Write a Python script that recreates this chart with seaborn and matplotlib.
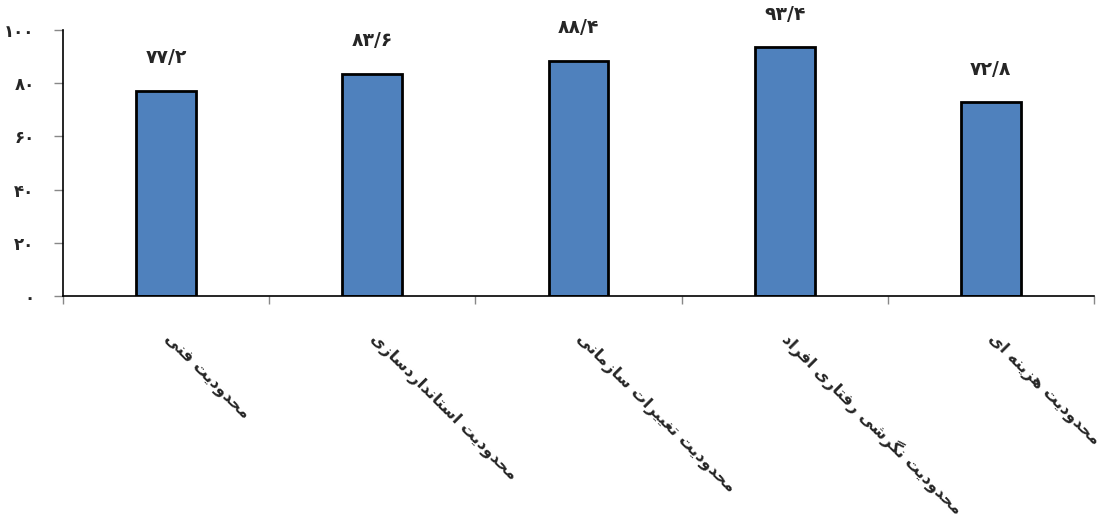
# bar chart of limitation percentages (Persian labels)
import matplotlib
matplotlib.use("Agg")
import matplotlib.pyplot as plt
import seaborn as sns
import pandas as pd

# ==========================================
# data
# ==========================================
categories = [
    "محدودیت فنی",
    "محدودیت استانداردسازی",
    "محدودیت تغییرات سازمانی",
    "محدودیت نگرشی رفتاری افراد",
    "محدودیت هزینه ای",
]
values = [77.2, 83.6, 88.4, 93.4, 72.8]
y_ticks = [0, 20, 40, 60, 80, 100]

# ==========================================
# persian helpers (matplotlib has no arabic shaping)
# ==========================================
FA_DIGITS = str.maketrans("0123456789.", "۰۱۲۳۴۵۶۷۸۹/")


def fa_num(v):
    return str(v).translate(FA_DIGITS)


# isolated, final, initial, medial
FORMS = {
    "ا": ("\uFE8D", "\uFE8E"),
    "ت": ("\uFE95", "\uFE96", "\uFE97", "\uFE98"),
    "ح": ("\uFEA1", "\uFEA2", "\uFEA3", "\uFEA4"),
    "د": ("\uFEA9", "\uFEAA"),
    "ر": ("\uFEAD", "\uFEAE"),
    "ز": ("\uFEAF", "\uFEB0"),
    "س": ("\uFEB1", "\uFEB2", "\uFEB3", "\uFEB4"),
    "ش": ("\uFEB5", "\uFEB6", "\uFEB7", "\uFEB8"),
    "غ": ("\uFECD", "\uFECE", "\uFECF", "\uFED0"),
    "ف": ("\uFED1", "\uFED2", "\uFED3", "\uFED4"),
    "م": ("\uFEE1", "\uFEE2", "\uFEE3", "\uFEE4"),
    "ن": ("\uFEE5", "\uFEE6", "\uFEE7", "\uFEE8"),
    "ه": ("\uFEE9", "\uFEEA", "\uFEEB", "\uFEEC"),
    "و": ("\uFEED", "\uFEEE"),
    "ی": ("\uFBFC", "\uFBFD", "\uFBFE", "\uFBFF"),
    "گ": ("\uFB92", "\uFB93", "\uFB94", "\uFB95"),
}


def shape(text):
    out = []
    for i, ch in enumerate(text):
        if ch not in FORMS:
            out.append(ch)
            continue
        f = FORMS[ch]
        prev = text[i - 1] if i > 0 else ""
        nxt = text[i + 1] if i + 1 < len(text) else ""
        join_prev = prev in FORMS and len(FORMS[prev]) == 4
        join_next = len(f) == 4 and nxt in FORMS
        if join_prev and join_next:
            out.append(f[3])
        elif join_prev:
            out.append(f[1])
        elif join_next:
            out.append(f[2])
        else:
            out.append(f[0])
    return "".join(out)[::-1]


# ==========================================
# plot
# ==========================================
sns.set_theme(style="white")
plt.rcParams["font.family"] = ["DejaVu Sans"]

df = pd.DataFrame({"cat": categories, "val": values})

fig, ax = plt.subplots(figsize=(11.12, 5.25), dpi=100)
fig.subplots_adjust(left=0.0567, right=0.9838, bottom=0.436, top=0.943)

sns.barplot(
    data=df, x="cat", y="val",
    color="#4F81BD", saturation=1,
    edgecolor="black", linewidth=2,
    width=0.29, ax=ax
)

ax.set_xlim(-0.5, 4.5)
ax.set_ylim(0, 100)
ax.set_xlabel("")
ax.set_ylabel("")

# y axis
ax.set_yticks(y_ticks)
ax.set_yticklabels([fa_num(t) for t in y_ticks], fontsize=12, fontweight="bold")
ax.tick_params(axis="y", length=6.5, width=1, color="#888888", pad=14, left=True)

# x axis: ticks at category borders, labels at centres
ax.set_xticks([i - 0.5 for i in range(len(categories) + 1)])
ax.set_xticklabels([""] * (len(categories) + 1))
ax.set_xticks(range(len(categories)), minor=True)
ax.set_xticklabels([shape(c) for c in categories], minor=True,
                   fontsize=11.8, fontweight="bold")
ax.tick_params(axis="x", which="major", length=6, width=1, color="#888888", bottom=True)
ax.tick_params(axis="x", which="minor", length=0, pad=29, bottom=True)
for lbl in ax.get_xticklabels(minor=True):
    lbl.set_rotation(-45)
    lbl.set_ha("left")
    lbl.set_va("center")
    lbl.set_rotation_mode("anchor")

for side in ["top", "right"]:
    ax.spines[side].set_visible(False)
for side in ["left", "bottom"]:
    ax.spines[side].set_color("black")
    ax.spines[side].set_linewidth(1.2)

ax.bar_label(ax.containers[0], labels=[fa_num(v) for v in values],
             padding=17, fontsize=13.5, fontweight="bold")

fig.savefig("out.png", dpi=100)
